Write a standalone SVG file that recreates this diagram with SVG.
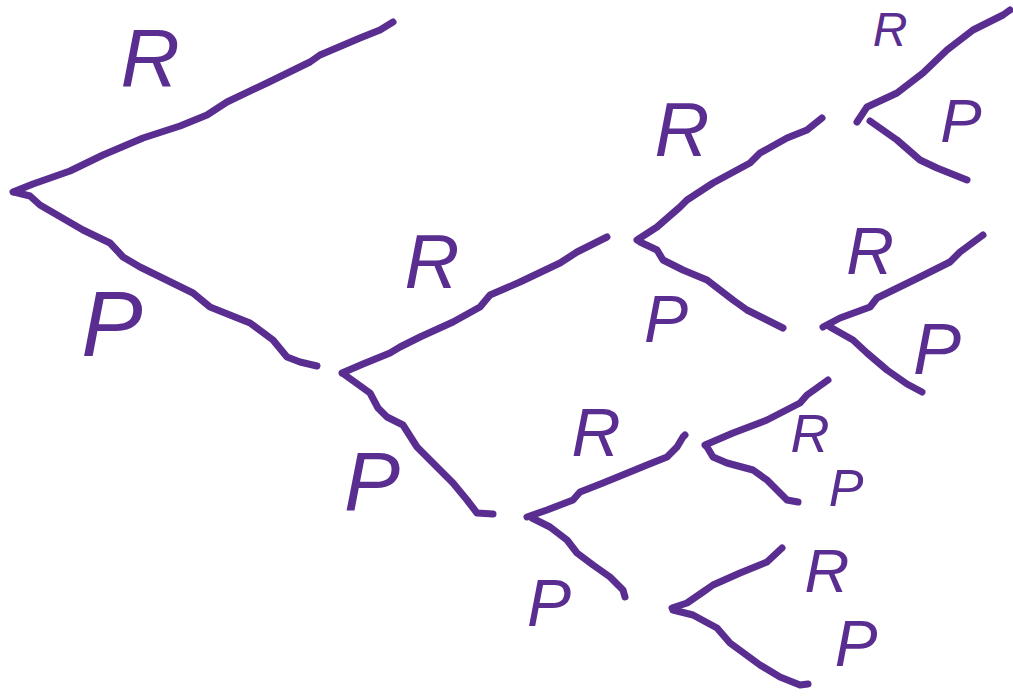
<svg xmlns="http://www.w3.org/2000/svg" width="1013" height="700" viewBox="0 0 1013 700">
<style>
.e{fill:none;stroke:#5a2d91;stroke-width:7;stroke-linecap:round;stroke-linejoin:round}
.l{fill:#5a2d91;font-family:"Liberation Sans",Arial,sans-serif;font-style:italic;text-anchor:middle}
</style>
<rect width="1013" height="700" fill="#fff"/>
<g id="connectors">
<polyline class="e" points="13,192 33,184 70,171 103,155 143,138 180,126 207,115 227,102 267,83 310,62 320,55 360,38 380,30 393,22"/>
<polyline class="e" points="14,192 30,196 40,205 83,230 110,243 123,257 140,267 193,293 210,307 250,323 273,340 287,357 300,362 317,366"/>
<polyline class="e" points="342,373 363,364 390,353 400,347 420,337 453,322 480,307 490,295 520,282 560,263 577,252 607,237"/>
<polyline class="e" points="345,375 370,393 378,408 387,417 403,425 417,447 437,467 453,483 467,500 477,513 493,514"/>
<polyline class="e" points="637,240 657,227 680,207 687,200 713,183 750,163 760,153 787,138 807,130 822,118"/>
<polyline class="e" points="640,242 657,250 663,260 683,270 707,280 733,300 747,310 767,320 783,328"/>
<polyline class="e" points="857,122 867,107 897,93 923,73 947,50 973,30 1003,15 1010,10"/>
<polyline class="e" points="870,121 897,140 920,160 937,168 967,180"/>
<polyline class="e" points="823,327 840,318 870,307 877,298 920,277 950,262 960,252 983,235"/>
<polyline class="e" points="830,327 853,340 867,353 887,370 907,384 922,392"/>
<polyline class="e" points="527,517 547,510 573,500 580,492 603,483 647,465 667,457 677,447 683,437 685,435"/>
<polyline class="e" points="532,518 550,527 567,540 577,553 593,565 610,577 623,590 625,597"/>
<polyline class="e" points="705,445 733,433 767,420 800,403 807,395 828,380"/>
<polyline class="e" points="707,447 713,457 727,463 753,470 767,480 780,493 787,500 798,502"/>
<polyline class="e" points="672,608 687,603 703,592 713,585 740,573 767,562 782,548"/>
<polyline class="e" points="673,610 693,615 717,628 730,643 760,665 780,677 800,685 808,684"/>
</g>
<g id="label-R1"><text class="l" x="150" y="86" font-size="82">R</text></g>
<g id="label-P1"><text class="l" x="112" y="356" font-size="92">P</text></g>
<g id="label-R2"><text class="l" x="432" y="288" font-size="76">R</text></g>
<g id="label-P2"><text class="l" x="372" y="510" font-size="84">P</text></g>
<g id="label-R3"><text class="l" x="682" y="156" font-size="76">R</text></g>
<g id="label-P3"><text class="l" x="666" y="342" font-size="66">P</text></g>
<g id="label-R4"><text class="l" x="890" y="46" font-size="48">R</text></g>
<g id="label-P4"><text class="l" x="961" y="142" font-size="62">P</text></g>
<g id="label-R5"><text class="l" x="870" y="274" font-size="66">R</text></g>
<g id="label-P5"><text class="l" x="937" y="374" font-size="72">P</text></g>
<g id="label-R6"><text class="l" x="596" y="456" font-size="68">R</text></g>
<g id="label-P6"><text class="l" x="549" y="626" font-size="66">P</text></g>
<g id="label-R7"><text class="l" x="810" y="452" font-size="54">R</text></g>
<g id="label-P7"><text class="l" x="846" y="506" font-size="52">P</text></g>
<g id="label-R8"><text class="l" x="827" y="592" font-size="62">R</text></g>
<g id="label-P8"><text class="l" x="856" y="666" font-size="64">P</text></g>
</svg>
